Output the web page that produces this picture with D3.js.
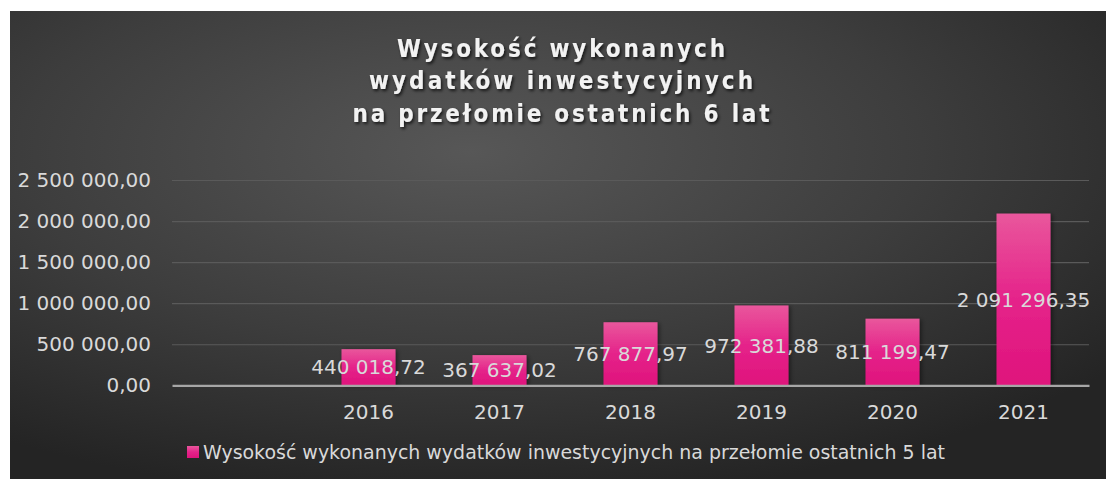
<!DOCTYPE html>
<html>
<head>
<meta charset="utf-8">
<script src="https://cdn.jsdelivr.net/npm/d3@7"></script>
<style>
  body { margin: 0; background: #ffffff; }
  svg { display: block; }
  .lbl { font-family: "DejaVu Sans", sans-serif; font-size: 20px; fill: #d9d9d9; }
</style>
</head>
<body>
<div id="chart"></div>
<script>
// DATA
const categories = ["", "2016", "2017", "2018", "2019", "2020", "2021"];
const values = [null, 440018.72, 367637.02, 767877.97, 972381.88, 811199.47, 2091296.35];
const yTicks = [0, 500000, 1000000, 1500000, 2000000, 2500000];
const titleLines = ["Wysokość wykonanych", "wydatków inwestycyjnych", "na przełomie ostatnich 6 lat"];
const seriesName = "Wysokość wykonanych wydatków inwestycyjnych na przełomie ostatnich 5 lat";

// DIMENSIONS
const W = 1106, H = 479;
const plot = {left: 172, right: 1089, top: 180, bottom: 385.3};

const pl = d3.formatLocale({decimal: ",", thousands: "\u00a0", grouping: [3], currency: ["", ""]});
const fmt = pl.format(",.2f");

let svg = d3.select("#chart")
    .append("svg")
    .attr("width", W)
    .attr("height", H);

let defs = svg.append("defs");

// background gradient
let bg = defs.append("radialGradient")
    .attr("id", "bgGrad")
    .attr("cx", "0.42").attr("cy", "0.3").attr("r", "0.75");
bg.append("stop").attr("offset", "0").attr("stop-color", "#575757");
bg.append("stop").attr("offset", "0.55").attr("stop-color", "#3d3d3d");
bg.append("stop").attr("offset", "1").attr("stop-color", "#242424");

// bar gradient
let bar = defs.append("linearGradient")
    .attr("id", "barGrad")
    .attr("x1", 0).attr("y1", 0).attr("x2", 0).attr("y2", 1);
bar.append("stop").attr("offset", "0").attr("stop-color", "#e9579c");
bar.append("stop").attr("offset", "0.5").attr("stop-color", "#e5238a");
bar.append("stop").attr("offset", "1").attr("stop-color", "#df137c");

// shadows
let sh = defs.append("filter").attr("id", "barShadow")
    .attr("x", "-20%").attr("y", "-20%").attr("width", "150%").attr("height", "150%");
sh.append("feDropShadow").attr("dx", 2).attr("dy", 1).attr("stdDeviation", 2)
    .attr("flood-color", "#000").attr("flood-opacity", 0.45);

let tsh = defs.append("filter").attr("id", "titleShadow")
    .attr("x", "-10%").attr("y", "-30%").attr("width", "120%").attr("height", "170%");
tsh.append("feDropShadow").attr("dx", 1.5).attr("dy", 2).attr("stdDeviation", 1.5)
    .attr("flood-color", "#000").attr("flood-opacity", 0.7);

svg.append("rect")
    .attr("x", 10).attr("y", 11)
    .attr("width", W - 10).attr("height", H - 11)
    .attr("fill", "url(#bgGrad)");

// TITLE
const titleWidths = [328, 384, 417];
svg.append("g")
    .attr("filter", "url(#titleShadow)")
    .selectAll("text")
    .data(titleLines)
    .enter().append("text")
    .attr("x", 561)
    .attr("y", (d, i) => 56.5 + i * 32.7)
    .attr("text-anchor", "middle")
    .attr("textLength", (d, i) => titleWidths[i])
    .attr("lengthAdjust", "spacing")
    .style("font-family", "'Liberation Sans Narrow', 'DejaVu Sans Condensed', sans-serif")
    .style("font-weight", "bold")
    .style("font-size", "24px")
    .style("fill", "#f2f2f2")
    .text(d => d);

// SCALES
let xScale = d3.scaleBand()
    .domain(categories)
    .range([plot.left, plot.right])
    .paddingInner(0.588)
    .paddingOuter(0.294);

let yScale = d3.scaleLinear()
    .domain([0, 2500000])
    .range([plot.bottom, plot.top]);

// GRIDLINES
svg.append("g")
    .attr("transform", "translate(" + plot.left + ",0)")
    .call(d3.axisLeft(yScale).tickValues(yTicks.slice(1)).tickSize(-(plot.right - plot.left)).tickFormat(""))
    .call(g => g.select(".domain").remove())
    .call(g => g.selectAll("line").attr("stroke", "#5a5a5a").attr("stroke-width", 1.2));

// Y AXIS
svg.append("g")
    .attr("transform", "translate(" + plot.left + ",0)")
    .call(d3.axisLeft(yScale).tickValues(yTicks).tickSize(0).tickPadding(21).tickFormat(fmt))
    .call(g => g.select(".domain").remove())
    .call(g => g.selectAll("text").attr("class", "lbl").attr("fill", null));

// BARS
let data = categories.map((c, i) => ({cat: c, value: values[i]})).filter(d => d.value != null);

svg.append("g")
    .attr("filter", "url(#barShadow)")
    .selectAll("rect")
    .data(data)
    .enter().append("rect")
    .attr("x", d => xScale(d.cat))
    .attr("y", d => yScale(d.value))
    .attr("width", xScale.bandwidth())
    .attr("height", d => yScale(0) - yScale(d.value))
    .attr("fill", "url(#barGrad)");

// X AXIS
svg.append("g")
    .attr("transform", "translate(0," + plot.bottom + ")")
    .call(d3.axisBottom(xScale).tickSize(0).tickPadding(20))
    .call(g => g.select(".domain").attr("stroke", "#a6a6a6").attr("stroke-width", 2.2))
    .call(g => g.selectAll("text").attr("class", "lbl").attr("fill", null));

// VALUE LABELS
svg.append("g")
    .selectAll("text")
    .data(data)
    .enter().append("text")
    .attr("class", "lbl")
    .attr("x", d => xScale(d.cat) + xScale.bandwidth() / 2)
    .attr("y", d => yScale(d.value / 2))
    .attr("dy", "0.36em")
    .attr("text-anchor", "middle")
    .text(d => fmt(d.value));

// LEGEND
let legend = svg.append("g").attr("transform", "translate(187,446)");
legend.append("rect")
    .attr("width", 12).attr("height", 12)
    .attr("fill", "url(#barGrad)");
legend.append("text")
    .attr("class", "lbl")
    .attr("x", 16)
    .attr("y", 13)
    .attr("textLength", 742)
    .attr("lengthAdjust", "spacingAndGlyphs")
    .style("font-size", "19px")
    .text(seriesName);
</script>
</body>
</html>
